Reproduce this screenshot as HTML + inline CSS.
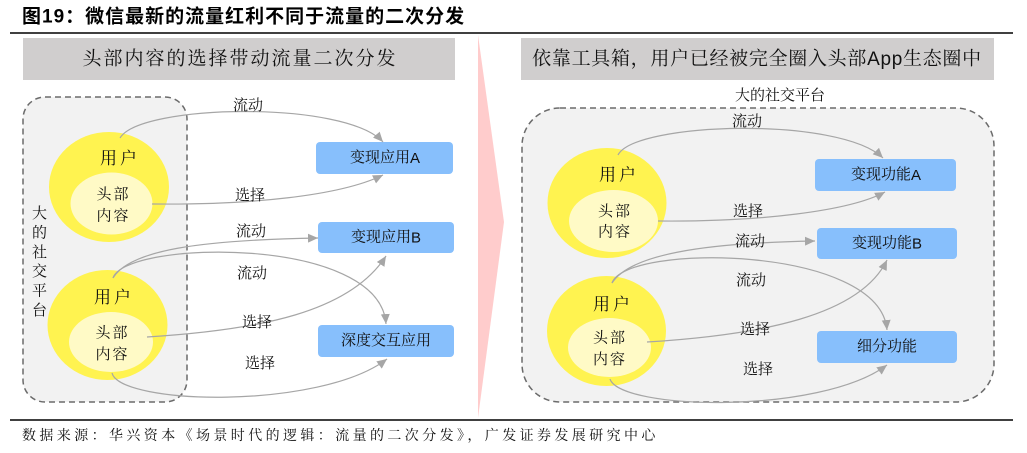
<!DOCTYPE html>
<html>
<head>
<meta charset="utf-8">
<style>
  html, body { margin: 0; padding: 0; background: #ffffff; }
  body { width: 1027px; height: 453px; overflow: hidden; }
  svg { display: block; }
  .serif { font-family: "Liberation Serif", "Noto Serif CJK SC", serif; }
  .sans { font-family: "Liberation Sans", "Noto Sans CJK SC", sans-serif; }
</style>
</head>
<body>
<svg width="1027" height="453" viewBox="0 0 1027 453" xmlns="http://www.w3.org/2000/svg">
  <defs>
    <marker id="ah" markerUnits="userSpaceOnUse" markerWidth="11" markerHeight="9" refX="10" refY="4.5" orient="auto">
      <path d="M0,0 L10,4.5 L0,9 z" fill="#a6a6a6"/>
    </marker>
  </defs>

  <!-- Title -->
  <text x="22" y="17" dominant-baseline="central" class="sans" font-size="19" font-weight="bold" letter-spacing="1" fill="#000">图19：微信最新的流量红利不同于流量的二次分发</text>
  <line x1="10" y1="33" x2="1013" y2="33" stroke="#000" stroke-width="1.6"/>

  <!-- Middle pink arrow -->
  <polygon points="478,35 504,222 478,418" fill="#ffcccc"/>

  <!-- Headers -->
  <rect x="23" y="38" width="432" height="42" fill="#d0cece"/>
  <text x="240" y="59" dominant-baseline="central" text-anchor="middle" class="serif" font-size="19" letter-spacing="2" fill="#111">头部内容的选择带动流量二次分发</text>

  <rect x="521" y="38" width="473" height="42" fill="#d0cece"/>
  <text x="757" y="59" dominant-baseline="central" text-anchor="middle" class="serif" font-size="19" letter-spacing="0.7" fill="#111">依靠工具箱，用户已经被完全圈入头部<tspan font-family="Liberation Sans, sans-serif">App</tspan>生态圈中</text>

  <!-- LEFT container -->
  <rect x="23" y="97" width="164" height="305" rx="22" ry="22" fill="#f2f2f2" stroke="#6b6b6b" stroke-width="1.5" stroke-dasharray="6,4"/>

  <!-- vertical label -->
  <g class="serif" font-size="15" fill="#111" text-anchor="middle" dominant-baseline="central">
    <text x="39.5" y="214" dominant-baseline="central">大</text>
    <text x="39.5" y="233.5" dominant-baseline="central">的</text>
    <text x="39.5" y="253" dominant-baseline="central">社</text>
    <text x="39.5" y="272" dominant-baseline="central">交</text>
    <text x="39.5" y="291.5" dominant-baseline="central">平</text>
    <text x="39.5" y="311" dominant-baseline="central">台</text>
  </g>

  <!-- Left circles -->
  <ellipse cx="109" cy="187" rx="60" ry="55" fill="#fff350"/>
  <ellipse cx="111.5" cy="203.5" rx="41" ry="31" fill="#fffac6"/>
  <ellipse cx="107.5" cy="325" rx="60" ry="55" fill="#fff350"/>
  <ellipse cx="111" cy="342" rx="42" ry="30" fill="#fffac6"/>

  <g class="serif" fill="#111" text-anchor="middle">
    <text x="120" y="158.5" font-size="17" letter-spacing="3" dominant-baseline="central">用户</text>
    <text x="113.5" y="195" font-size="15" letter-spacing="2" dominant-baseline="central">头部</text>
    <text x="113.5" y="216.5" font-size="15" letter-spacing="2" dominant-baseline="central">内容</text>
    <text x="114" y="297.5" font-size="17" letter-spacing="3" dominant-baseline="central">用户</text>
    <text x="112.5" y="333.5" font-size="15" letter-spacing="2" dominant-baseline="central">头部</text>
    <text x="112.5" y="355" font-size="15" letter-spacing="2" dominant-baseline="central">内容</text>
  </g>

  <!-- Left boxes -->
  <rect x="316" y="142" width="137" height="32" rx="4" fill="#87bffc"/>
  <rect x="318" y="222" width="136" height="31" rx="4" fill="#87bffc"/>
  <rect x="318" y="325" width="136" height="32" rx="4" fill="#87bffc"/>
  <g class="serif" font-size="15" fill="#111" text-anchor="middle">
    <text x="385" y="158" dominant-baseline="central">变现应用<tspan font-family="Liberation Sans, sans-serif">A</tspan></text>
    <text x="386" y="237.5" dominant-baseline="central">变现应用<tspan font-family="Liberation Sans, sans-serif">B</tspan></text>
    <text x="386" y="341" dominant-baseline="central">深度交互应用</text>
  </g>

  <!-- Left arrows -->
  <g fill="none" stroke="#a6a6a6" stroke-width="1.2" marker-end="url(#ah)">
    <path d="M120,138 C140,104 345,100 383,142"/>
    <path d="M152,204 C250,205 340,196 383,175"/>
    <path d="M113,278 C130,250 200,240 318,238"/>
    <path d="M113,278 C125,240 380,235 386,324"/>
    <path d="M147,337 C260,330 350,312 386,256"/>
    <path d="M112,373 C120,405 320,410 387,359"/>
  </g>

  <!-- Left labels -->
  <g class="serif" font-size="15" fill="#111" text-anchor="middle">
    <text x="248" y="106" dominant-baseline="central">流动</text>
    <text x="250" y="196" dominant-baseline="central">选择</text>
    <text x="251" y="232" dominant-baseline="central">流动</text>
    <text x="252" y="274" dominant-baseline="central">流动</text>
    <text x="257" y="323" dominant-baseline="central">选择</text>
    <text x="260" y="364" dominant-baseline="central">选择</text>
  </g>

  <!-- RIGHT container -->
  <text x="780" y="96" dominant-baseline="central" text-anchor="middle" class="serif" font-size="15" fill="#111">大的社交平台</text>
  <rect x="522" y="108" width="472" height="294" rx="38" ry="38" fill="#f2f2f2" stroke="#6b6b6b" stroke-width="1.5" stroke-dasharray="6,4"/>

  <!-- Right circles -->
  <ellipse cx="607" cy="203" rx="59.5" ry="55" fill="#fff350"/>
  <ellipse cx="613.5" cy="221" rx="44.5" ry="31" fill="#fffac6"/>
  <ellipse cx="606.5" cy="331" rx="59.5" ry="55" fill="#fff350"/>
  <ellipse cx="609.5" cy="347.5" rx="41.5" ry="29.5" fill="#fffac6"/>

  <g class="serif" fill="#111" text-anchor="middle">
    <text x="619" y="175" font-size="17" letter-spacing="3" dominant-baseline="central">用户</text>
    <text x="615" y="212" font-size="15" letter-spacing="2" dominant-baseline="central">头部</text>
    <text x="615" y="232.5" font-size="15" letter-spacing="2" dominant-baseline="central">内容</text>
    <text x="613" y="304.5" font-size="17" letter-spacing="3" dominant-baseline="central">用户</text>
    <text x="610" y="338.5" font-size="15" letter-spacing="2" dominant-baseline="central">头部</text>
    <text x="610" y="360" font-size="15" letter-spacing="2" dominant-baseline="central">内容</text>
  </g>

  <!-- Right boxes -->
  <rect x="815" y="159" width="141" height="32" rx="4" fill="#87bffc"/>
  <rect x="817" y="228" width="140" height="31" rx="4" fill="#87bffc"/>
  <rect x="817" y="331" width="140" height="32" rx="4" fill="#87bffc"/>
  <g class="serif" font-size="15" fill="#111" text-anchor="middle">
    <text x="886" y="175" dominant-baseline="central">变现功能<tspan font-family="Liberation Sans, sans-serif">A</tspan></text>
    <text x="887" y="243.5" dominant-baseline="central">变现功能<tspan font-family="Liberation Sans, sans-serif">B</tspan></text>
    <text x="887" y="347" dominant-baseline="central">细分功能</text>
  </g>

  <!-- Right arrows -->
  <g fill="none" stroke="#a6a6a6" stroke-width="1.2" marker-end="url(#ah)">
    <path d="M618,155 C635,122 840,116 883,158"/>
    <path d="M658,221 C760,222 850,211 885,192"/>
    <path d="M612,283 C630,255 700,243 815,241"/>
    <path d="M612,283 C625,243 880,245 887,330"/>
    <path d="M647,342 C760,335 860,316 887,260"/>
    <path d="M610,379 C620,410 820,415 887,365"/>
  </g>

  <!-- Right labels -->
  <g class="serif" font-size="15" fill="#111" text-anchor="middle">
    <text x="747" y="122" dominant-baseline="central">流动</text>
    <text x="748" y="212" dominant-baseline="central">选择</text>
    <text x="750" y="242" dominant-baseline="central">流动</text>
    <text x="751" y="281" dominant-baseline="central">流动</text>
    <text x="755" y="330" dominant-baseline="central">选择</text>
    <text x="758" y="370" dominant-baseline="central">选择</text>
  </g>

  <!-- Footer -->
  <line x1="10" y1="420" x2="1013" y2="420" stroke="#000" stroke-width="1.6"/>
  <text x="22" y="436.5" dominant-baseline="central" class="serif" font-size="14" letter-spacing="3.4" fill="#111">数据来源：华兴资本《场景时代的逻辑：流量的二次分发》，广发证券发展研究中心</text>
</svg>
</body>
</html>
